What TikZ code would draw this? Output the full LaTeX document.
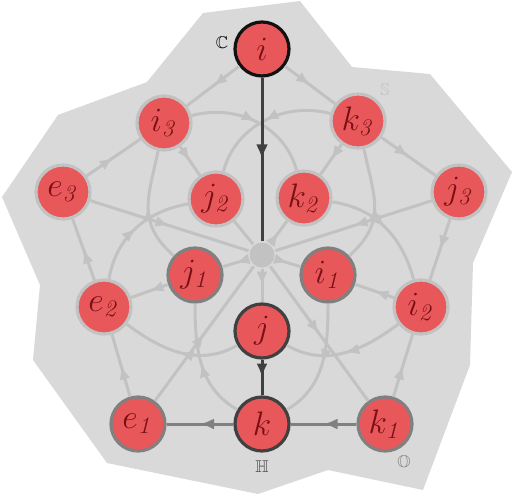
\documentclass[tikz,border=0pt]{standalone}
\usepackage{fix-cm}
\usepackage{amssymb}
\usetikzlibrary{arrows.meta,decorations.markings}
\definecolor{nodered}{HTML}{E8585B}
\definecolor{labelred}{HTML}{7A1015}
\definecolor{bggray}{HTML}{D9D9D9}
\definecolor{sedegray}{HTML}{C2C2C2}
\definecolor{octogray}{HTML}{808080}
\definecolor{quatgray}{HTML}{404040}
\definecolor{cplxgray}{HTML}{111111}
\begin{document}
\begin{tikzpicture}[x=1pt, y=1pt,
                    line width=3pt,
                    font=\fontsize{34}{40}\selectfont,
                    midarrow/.style={postaction={decorate},
                        decoration={markings,
                            mark=at position 0.5 with {\arrow{Latex[length=14pt,width=11pt]}}}},
                    ]
    \tikzstyle{unit}=[circle,fill=nodered,text=labelred,minimum size=54pt,inner sep=0pt,line width=3.2pt]
    \tikzstyle{cplx}=[unit, draw=cplxgray];
    \tikzstyle{quat}=[unit, draw=quatgray];
    \tikzstyle{octo}=[unit, draw=octogray];
    \tikzstyle{sede}=[unit, draw=sedegray];
    \tikzstyle{hubdot}=[circle,fill=sedegray,minimum size=25pt,inner sep=0pt];
    \tikzstyle{sedeedge}=[draw=sedegray, midarrow];
    \tikzstyle{octoedge}=[draw=octogray, midarrow];
    \tikzstyle{quatedge}=[draw=quatgray, midarrow];
    \tikzstyle{algebra}=[font=\fontsize{17}{20}\selectfont];

    \useasboundingbox (0,0) rectangle (513,-495);
    \fill[bggray] (2,-197) -- (58,-115) -- (147,-82) -- (203,-13) -- (300,-1) -- (352,-67)
        -- (430,-74) -- (512,-172) -- (473,-263) -- (470,-365) -- (423,-490) -- (328,-470)
        -- (258,-494) -- (107,-463) -- (33,-360) -- (40,-285) -- cycle;

    % units
    \node[cplx] (i)  at (262,-49)  {$i$};
    \node[sede] (i3) at (164,-123) {$i_{\mathit{3}}$};
    \node[sede] (k3) at (358,-121) {$k_{\mathit{3}}$};
    \node[sede] (e3) at (63,-192)  {$e_{\mathit{3}}$};
    \node[sede] (j3) at (459,-192) {$j_{\mathit{3}}$};
    \node[sede] (j2) at (216,-199) {$j_{\mathit{2}}$};
    \node[sede] (k2) at (304,-198) {$k_{\mathit{2}}$};
    \node[hubdot] (hub) at (262,-255) {};
    \node[octo] (j1) at (195,-275) {$j_{\mathit{1}}$};
    \node[octo] (i1) at (328,-275) {$i_{\mathit{1}}$};
    \node[sede] (e2) at (104,-307) {$e_{\mathit{2}}$};
    \node[sede] (i2) at (421,-307) {$i_{\mathit{2}}$};
    \node[quat] (j)  at (262,-331) {$j$};
    \node[octo] (e1) at (138,-424) {$e_{\mathit{1}}$};
    \node[quat] (k)  at (262,-424) {$k$};
    \node[octo] (k1) at (385,-424) {$k_{\mathit{1}}$};

    \node[algebra, text=black]     (C) at (222,-43)  {$\mathbb{C}$};
    \node[algebra, text=sedegray]  (S) at (385,-90)  {$\mathbb{S}$};
    \node[algebra, text=quatgray]  (H) at (262,-467) {$\mathbb{H}$};
    \node[algebra, text=octogray]  (O) at (404,-463) {$\mathbb{O}$};

    % straight connectors
    \draw[sedeedge] (i) -- (i3);
    \draw[sedeedge] (i) -- (k3);
    \draw[sedeedge] (i3) -- (j2);
    \draw[sedeedge] (k3) -- (k2);
    \draw[sedeedge] (e3) -- (i3);
    \draw[sedeedge] (k3) -- (j3);
    \draw[sedeedge] (j3) -- (i2);
    \draw[sedeedge] (e2) -- (e3);
    \draw[sedeedge] (e1) -- (e2);
    \draw[sedeedge] (k1) -- (i2);
    \draw[sedeedge] (i2) -- (i1);
    \draw[sedeedge] (j1) -- (e2);
    \draw[sedeedge] (e3) -- (hub);
    \draw[sedeedge] (j3) -- (hub);
    \draw[sedeedge] (hub) -- (k2);
    \draw[draw=sedegray] (j2) -- (hub);
    \draw[sedeedge] (hub) -- (j1);
    \draw[sedeedge] (hub) -- (i1);
    \draw[sedeedge] (hub) -- (j);
    \draw[sedeedge] (e1) -- (hub);
    \draw[sedeedge] (hub) -- (k1);

    % arcs
    \draw[sedeedge] (i3) to[out=15,in=105] (k2);
    \draw[sedeedge] (k3) to[out=165,in=75] (j2);
    \draw[sedeedge] (j1) to[out=138,in=258,looseness=1.2] (i3);
    \draw[sedeedge] (i1) to[out=42,in=282,looseness=1.2] (k3);
    \draw[sedeedge] (e2) to[out=80,in=190] (j2);
    \draw[sedeedge] (k2) to[out=-8,in=105] (i2);
    \draw[sedeedge] (j) to[out=210,in=-37] (e2);
    \draw[sedeedge] (i2) to[out=217,in=-30] (j);
    \draw[sedeedge] (k) to[out=150,in=270] (j1);
    \draw[sedeedge] (i1) to[out=270,in=30] (k);

    % octonion and quaternion connectors
    \draw[octoedge] (k1) -- (k);
    \draw[octoedge] (k) -- (e1);
    \draw[quatedge] (j) -- (k);
    \draw[draw=quatgray, postaction={decorate},
          decoration={markings, mark=at position 0.5 with {\arrow{Latex[length=15pt,width=12pt]}}}]
        (i) -- (hub);
\end{tikzpicture}
\end{document}
